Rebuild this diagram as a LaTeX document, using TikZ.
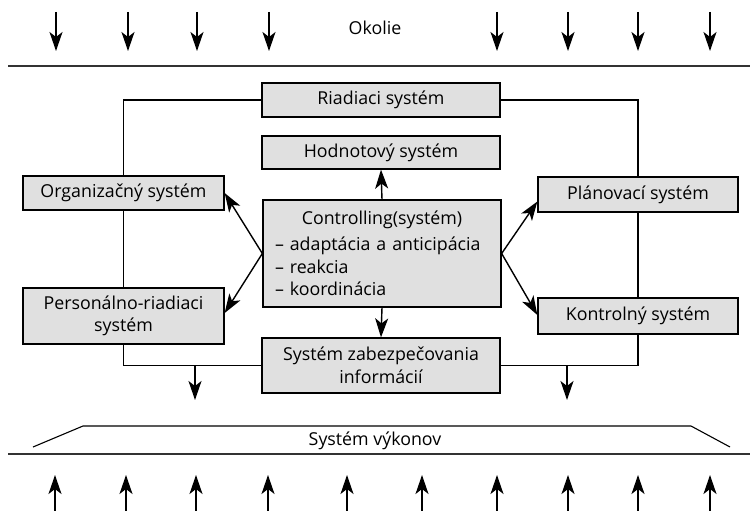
\documentclass[tikz,border=0pt]{standalone}
\usepackage{fontspec}
\setmainfont{Open Sans}
\usetikzlibrary{arrows.meta,calc}
\definecolor{boxgray}{RGB}{224,224,224}
\tikzset{
  box/.style={draw=black, line width=1.3pt, fill=boxgray, inner sep=0pt, align=center, font=\fontsize{17.8}{22.5}\selectfont},
  conn/.style={line width=1.3pt},
  arr/.style={line width=1.4pt, -{Stealth[length=19pt,width=13pt,inset=5pt]}},
  lbl/.style={font=\fontsize{17.8}{22}\selectfont, inner sep=0pt},
  base/.style={line width=2pt, draw=black!80}
}
\begin{document}
\begin{tikzpicture}[x=1pt,y=-1pt]
\useasboundingbox (0,0) rectangle (750,511);
% boxes
\node[box, minimum width=238pt, minimum height=34pt] (R) at (381,100) {Riadiaci systém};
\node[box, minimum width=238pt, minimum height=33pt] (H) at (381,152.5) {Hodnotový systém};
\node[box, minimum width=238pt, minimum height=107pt, text width=214pt, align=left] (C) at (382,253.5)
  {\centering Controlling(systém)\par\vspace{4pt}\raggedright
   – adaptácia a anticipácia\\ – reakcia\\ – koordinácia};
\node[box, minimum width=238pt, minimum height=55pt] (S) at (381,365.5) {Systém zabezpečovania\\informácií};
\node[box, minimum width=201pt, minimum height=34pt] (O) at (123.5,193) {Organizačný systém};
\node[box, minimum width=201pt, minimum height=56pt] (P) at (123.5,316) {Personálno-riadiaci\\systém};
\node[box, minimum width=200pt, minimum height=35pt] (Pl) at (638,194.5) {Plánovací systém};
\node[box, minimum width=200pt, minimum height=36pt] (K) at (638,316) {Kontrolný systém};
% frame lines
\draw[conn] (R.west) -| (O.north);
\draw[conn] (O.south) -- (P.north);
\draw[conn] (P.south) |- (S.west);
\draw[conn] (R.east) -| (Pl.north);
\draw[conn] (Pl.south) -- (K.north);
\draw[conn] (K.south) |- (S.east);
% outputs from frame
\coordinate (lo1) at (195,366);
\coordinate (lo2) at (195,400);
\coordinate (ro1) at (567,366);
\coordinate (ro2) at (567,400);
\draw[arr] (lo1) -- (lo2);
\draw[arr] (ro1) -- (ro2);
% controlling arrows
\draw[arr] (C.north) -- (H.south);
\draw[arr] (C.south) -- (S.north);
\draw[arr] (C.west) -- (O.east);
\draw[arr] (C.west) -- ([yshift=3pt]P.east);
\draw[arr] (C.east) -- ([yshift=-7pt]Pl.west);
\draw[arr] (C.east) -- ([yshift=1pt]K.west);
% environment
\node[lbl] (ok) at (375,28) {Okolie};
\coordinate (tl1) at (8,66);
\coordinate (tl2) at (750,66);
\draw[base] (tl1) -- (tl2);
\foreach \x in {56,128,197,269,497,568,638,710}{
  \draw[arr] (\x,12) -- (\x,51);
}
% performance system
\coordinate (t1) at (33,447);
\coordinate (t2) at (83,426);
\coordinate (t3) at (691,426);
\coordinate (t4) at (730,447);
\draw[conn, line width=1.1pt] (t1) -- (t2) -- (t3) -- (t4);
\node[lbl] (sv) at (375,441) {Systém výkonov};
\coordinate (bl1) at (8,454);
\coordinate (bl2) at (750,454);
\draw[base] (bl1) -- (bl2);
\foreach \x in {55,126,196,268,347,422,497,568,638,710}{
  \draw[arr] (\x,511) -- (\x,475);
}
\end{tikzpicture}
\end{document}
